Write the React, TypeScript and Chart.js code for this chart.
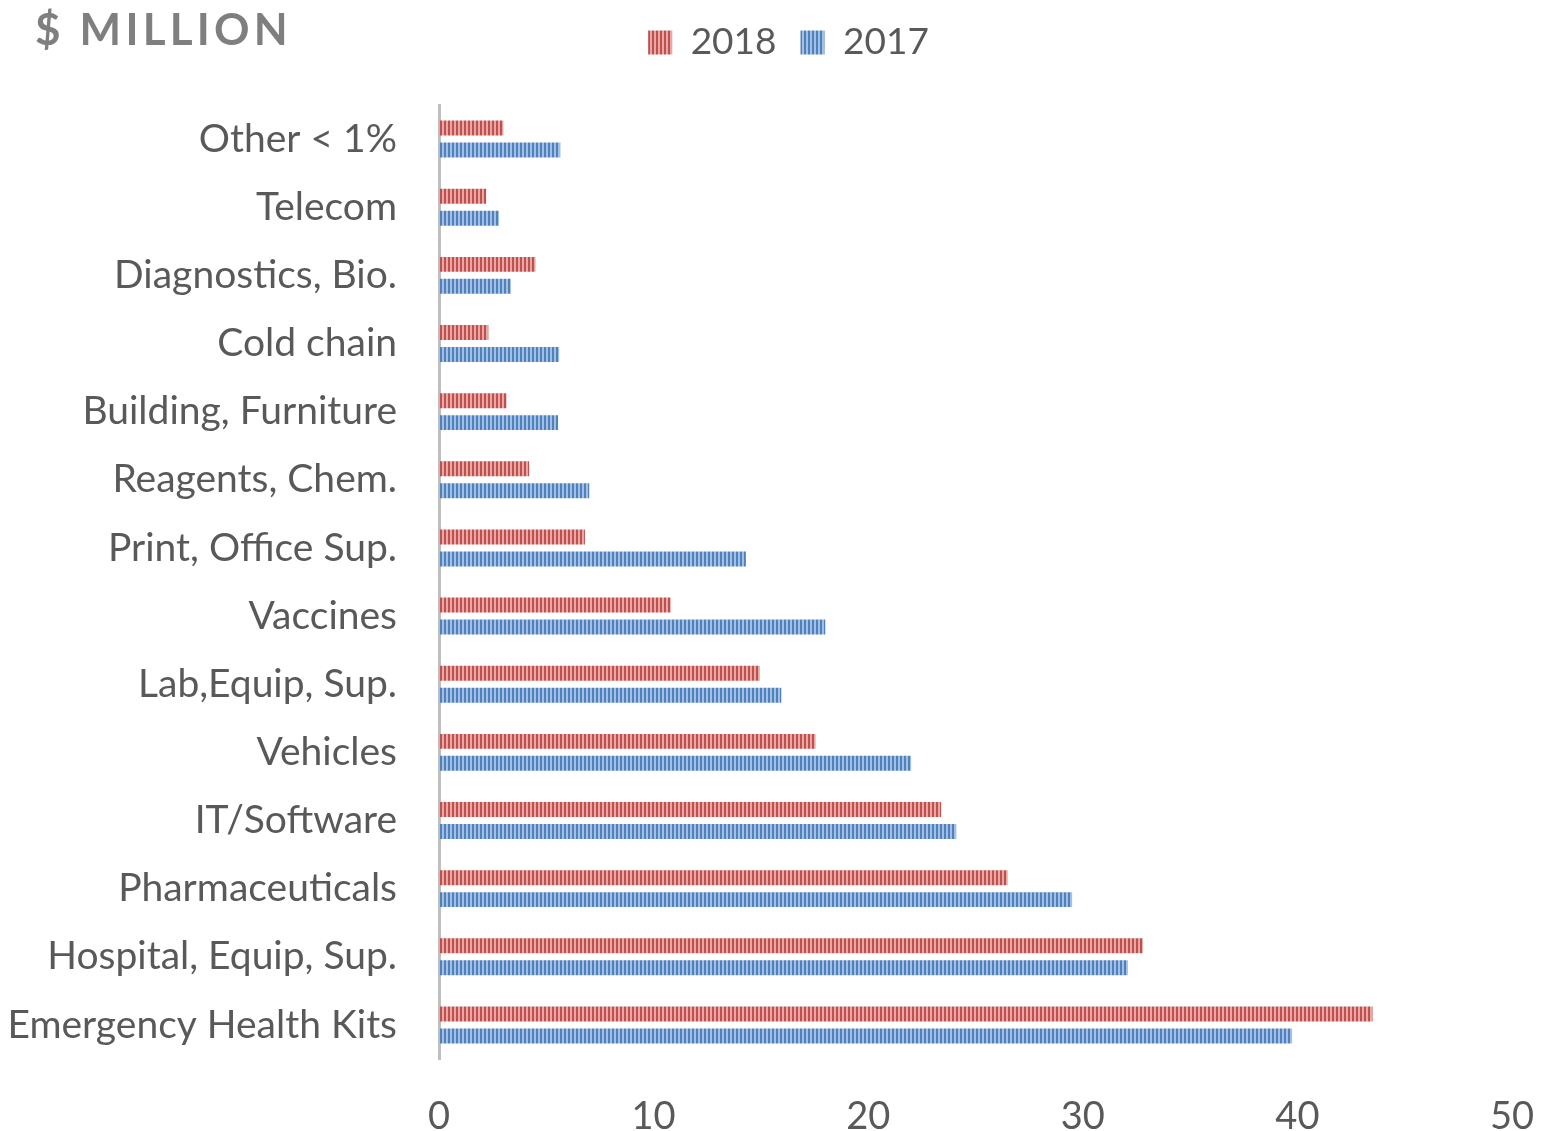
import { useEffect, useRef } from 'react';
import { Chart, registerables } from 'chart.js';

Chart.register(...registerables);

const categories = [
  'Other < 1%',
  'Telecom',
  'Diagnostics, Bio.',
  'Cold chain',
  'Building, Furniture',
  'Reagents, Chem.',
  'Print, Office Sup.',
  'Vaccines',
  'Lab,Equip, Sup.',
  'Vehicles',
  'IT/Software',
  'Pharmaceuticals',
  'Hospital, Equip, Sup.',
  'Emergency Health Kits',
];
const values2018 = [3.0, 2.2, 4.5, 2.3, 3.15, 4.2, 6.8, 10.8, 14.95, 17.55, 23.4, 26.5, 32.8, 43.5];
const values2017 = [5.65, 2.8, 3.35, 5.6, 5.55, 7.0, 14.3, 18.0, 15.95, 22.0, 24.1, 29.5, 32.1, 39.75];
const xMin = 0;
const xMax = 50;
const xStep = 10;
const titleText = '$ MILLION';

const FONT = 'Lato, "Open Sans", sans-serif';

function makePattern(dark: string, light: string): CanvasPattern | string {
  const c = document.createElement('canvas');
  c.width = 4;
  c.height = 4;
  const ctx = c.getContext('2d');
  if (!ctx) return dark;
  ctx.fillStyle = light;
  ctx.fillRect(0, 0, 4, 4);
  ctx.fillStyle = dark;
  ctx.fillRect(0, 0, 2, 4);
  const p = ctx.createPattern(c, 'repeat');
  return p || dark;
}

const cornerTitle = {
  id: 'cornerTitle',
  afterDraw(chart: any) {
    const ctx = chart.ctx;
    ctx.save();
    ctx.font = `bold 44px ${FONT}`;
    ctx.fillStyle = '#7f7f7f';
    try {
      (ctx as any).letterSpacing = '4.2px';
    } catch (e) {}
    ctx.textBaseline = 'alphabetic';
    ctx.textAlign = 'left';
    ctx.fillText(titleText, 35, 45);
    ctx.restore();
  },
};

const legendShift = {
  id: 'legendShift',
  afterLayout(chart: any) {
    const lg = chart.legend;
    if (lg) {
      lg.left += 17;
      lg.right += 17;
    }
  },
};

export default function App() {
  const ref = useRef<HTMLCanvasElement>(null);

  useEffect(() => {
    if (!ref.current) return;
    const red = makePattern('#c0504d', '#e6a7a5');
    const blue = makePattern('#4f81bd', '#a3bfe3');
    const chart = new Chart(ref.current, {
      type: 'bar',
      data: {
        labels: categories,
        datasets: [
          {
            label: '2018',
            data: values2018,
            backgroundColor: red as any,
            borderWidth: 0,
            categoryPercentage: 0.645,
            barPercentage: 0.68,
          },
          {
            label: '2017',
            data: values2017,
            backgroundColor: blue as any,
            borderWidth: 0,
            categoryPercentage: 0.645,
            barPercentage: 0.68,
          },
        ],
      },
      options: {
        indexAxis: 'y',
        responsive: false,
        animation: false,
        layout: { padding: { top: 0, left: 0, right: 0, bottom: 0 } },
        plugins: {
          legend: {
            position: 'top',
            align: 'center',
            labels: {
              font: { family: FONT, size: 37 },
              color: '#595959',
              boxWidth: 24,
              boxHeight: 24,
              padding: 24,
            },
          },
          title: {
            display: true,
            text: '',
            position: 'top',
            weight: 500,
            padding: 0,
            font: { size: 34, lineHeight: 1 },
          },
          tooltip: { enabled: false },
        },
        scales: {
          x: {
            type: 'linear',
            position: 'bottom',
            min: xMin,
            max: xMax,
            grid: { display: false, drawTicks: false },
            border: { display: false },
            ticks: {
              stepSize: xStep,
              font: { family: FONT, size: 38 },
              color: '#595959',
              padding: 35,
            },
            afterFit(scale: any) {
              scale.height = 72;
              scale.paddingLeft = 0;
              scale.paddingRight = 31;
            },
          },
          y: {
            type: 'category',
            grid: { display: false, drawTicks: false },
            border: { display: true, color: '#bfbfbf', width: 3 },
            ticks: {
              font: { family: FONT, size: 39 },
              color: '#595959',
              padding: 42,
              autoSkip: false,
            },
            afterFit(scale: any) {
              scale.width = 439;
            },
          },
        },
      },
      plugins: [cornerTitle, legendShift],
    });
    return () => chart.destroy();
  }, []);

  return (
    <div style={{ position: 'absolute', left: 0, top: 0, width: 1543, height: 1131, background: '#fff' }}>
      <canvas ref={ref} width={1543} height={1131} style={{ display: 'block' }} />
    </div>
  );
}
